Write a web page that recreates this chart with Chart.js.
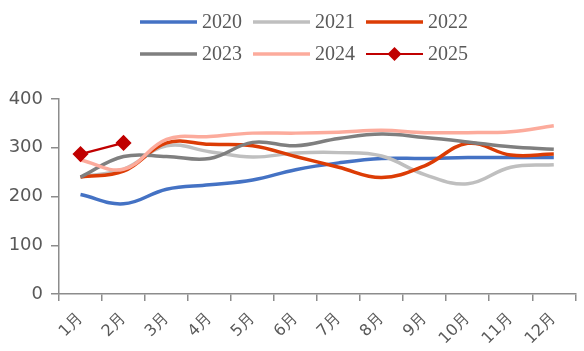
<!DOCTYPE html>
<html>
<head>
<meta charset="utf-8">
<script src="https://cdn.jsdelivr.net/npm/chart.js@4/dist/chart.umd.min.js"></script>
<style>
  html, body { margin: 0; padding: 0; background: #fff; }
  #wrap { width: 584px; height: 351px; }
</style>
</head>
<body>
<div id="wrap"><canvas id="priceChart"></canvas></div>
<script>
const months = ['1月', '2月', '3月', '4月', '5月', '6月', '7月', '8月', '9月', '10月', '11月', '12月'];
const yTicks = [0, 100, 200, 300, 400];

const y2020 = [204, 185, 215, 224, 234, 255, 269, 278, 278, 280, 280, 280];
const y2021 = [240, 256, 304, 292, 281, 289, 290, 283, 245, 226, 260, 265];
const y2022 = [240, 252, 310, 307, 304, 282, 260, 239, 263, 309, 285, 287];
const y2023 = [240, 282, 282, 278, 311, 304, 319, 328, 321, 312, 302, 297];
const y2024 = [275, 256, 317, 323, 330, 330, 332, 336, 331, 331, 333, 345];
const y2025 = [287, 310];

const years = ['2020', '2021', '2022', '2023', '2024', '2025'];
const colors = ['#4472c4', '#bfbfbf', '#dc3c05', '#7f7f7f', '#fcab9c', '#c00000'];
const values = [y2020, y2021, y2022, y2023, y2024, y2025];

// legend layout (3 per row)
const legendX = [140, 253, 366];
const legendY = [22, 54];

const datasets = years.map((yr, i) => ({
  label: yr,
  data: values[i],
  borderColor: colors[i],
  backgroundColor: colors[i],
  borderWidth: i === 5 ? 2.2 : 3.5,
  tension: i === 5 ? 0 : 0.4,
  pointRadius: i === 5 ? 6.5 : 0,
  pointStyle: 'rectRot',
  order: 5 - i,
  fill: false
}));

const rowLegend = {
  id: 'rowLegend',
  afterDraw(chart) {
    const ctx = chart.ctx;
    ctx.save();
    ctx.font = '20px "Liberation Serif"';
    ctx.textBaseline = 'middle';
    ctx.fillStyle = '#595959';
    years.forEach((yr, i) => {
      const x = legendX[i % 3];
      const y = legendY[Math.floor(i / 3)];
      ctx.strokeStyle = colors[i];
      ctx.lineWidth = i === 5 ? 2.2 : 3.5;
      ctx.beginPath();
      ctx.moveTo(x, y);
      ctx.lineTo(x + 57, y);
      ctx.stroke();
      if (i === 5) {
        ctx.fillStyle = colors[i];
        ctx.beginPath();
        ctx.moveTo(x + 28.5, y - 7);
        ctx.lineTo(x + 35.5, y);
        ctx.lineTo(x + 28.5, y + 7);
        ctx.lineTo(x + 21.5, y);
        ctx.closePath();
        ctx.fill();
        ctx.fillStyle = '#595959';
      }
      ctx.fillText(yr, x + 62, y + 1);
    });
    ctx.restore();
  }
};

const ctx = document.getElementById('priceChart').getContext('2d');
new Chart(ctx, {
  type: 'line',
  data: { labels: months, datasets: datasets },
  options: {
    responsive: true,
    maintainAspectRatio: false,
    animation: false,
    layout: { padding: { top: 99, right: 1, left: 0, bottom: 0 } },
    plugins: { legend: { display: false }, tooltip: { enabled: false } },
    scales: {
      x: {
        offset: true,
        grid: { display: true, offset: true, drawOnChartArea: false, tickLength: 7, color: '#8c8c8c', lineWidth: 1.5 },
        border: { color: '#8c8c8c', width: 1.5 },
        ticks: {
          color: '#595959',
          font: { family: 'DejaVu Sans', size: 16 },
          minRotation: 45,
          maxRotation: 45,
          padding: 8,
          autoSkip: false
        },
        afterFit(scale) { scale.height = 57; }
      },
      y: {
        min: 0,
        max: 400,
        afterBuildTicks(scale) { scale.ticks = yTicks.map(v => ({ value: v })); },
        grid: { display: true, drawOnChartArea: false, tickLength: 8, color: '#8c8c8c', lineWidth: 1.5 },
        border: { color: '#8c8c8c', width: 1.5 },
        ticks: {
          color: '#595959',
          font: { family: 'DejaVu Sans', size: 18 },
          padding: 8
        },
        afterFit(scale) { scale.width = 59; }
      }
    }
  },
  plugins: [rowLegend]
});
</script>
</body>
</html>
